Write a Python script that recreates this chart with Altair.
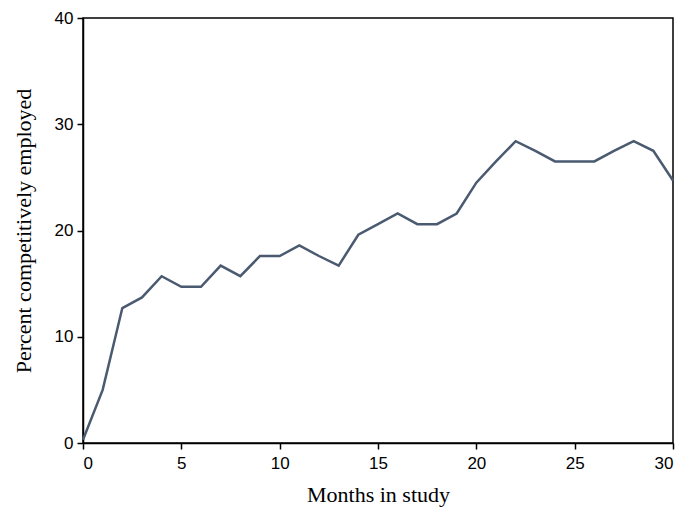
import altair as alt
import pandas as pd

months = list(range(0, 31))
percent = [0.3, 5.0, 12.7, 13.7, 15.7, 14.7, 14.7, 16.7, 15.7, 17.6, 17.6, 18.6,
           17.6, 16.7, 19.6, 20.6, 21.6, 20.6, 20.6, 21.6, 24.5, 26.5, 28.4, 27.5,
           26.5, 26.5, 26.5, 27.5, 28.4, 27.5, 24.7]

df = pd.DataFrame({"month": months, "pct": percent})

chart = alt.Chart(df).mark_line(color="#4a5a70", strokeWidth=2.5).encode(
    x=alt.X("month:Q", title="Months in study",
            scale=alt.Scale(domain=[0, 30], nice=False),
            axis=alt.Axis(values=[0, 5, 10, 15, 20, 25, 30], grid=False)),
    y=alt.Y("pct:Q", title="Percent competitively employed",
            scale=alt.Scale(domain=[0, 40], nice=False),
            axis=alt.Axis(values=[0, 10, 20, 30, 40], grid=False)),
).properties(
    width=590, height=425,
    autosize=alt.AutoSizeParams(type="none"),
    padding={"left": 75, "top": 10, "right": 4, "bottom": 65},
).configure_view(
    stroke="black", strokeWidth=1.5
).configure_axis(
    domainColor="black", domainWidth=1.5, tickColor="black", tickSize=6,
    tickWidth=1.5,
    labelFont="Liberation Sans", labelFontSize=17, labelColor="black",
    titleFont="Liberation Serif", titleFontSize=22, titleFontWeight="normal",
    titleColor="black",
).configure_axisX(titlePadding=13, labelPadding=6).configure_axisY(titlePadding=19, labelPadding=4)

chart.save("out.html", embed_options={"renderer": "svg", "actions": False})
